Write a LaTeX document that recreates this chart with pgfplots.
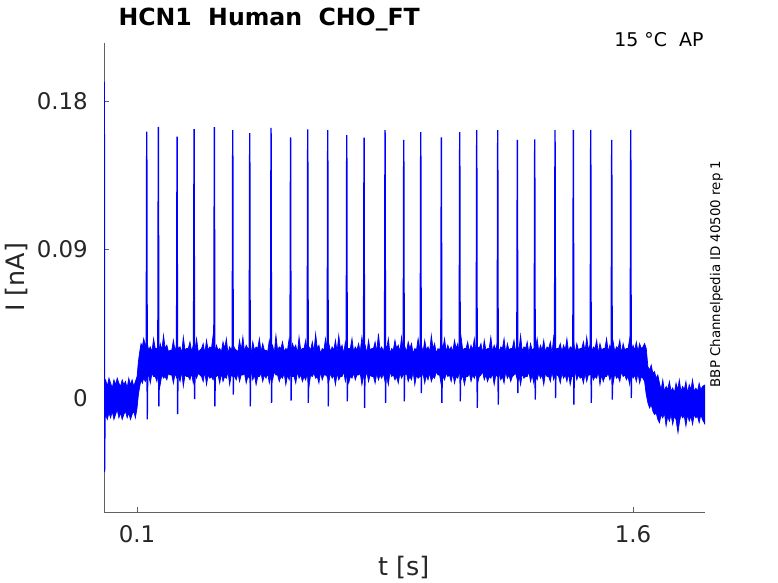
\documentclass[border=0pt]{standalone}
\usepackage{fontspec}
\setmainfont{DejaVu Sans}
\usepackage{pgfplots}
\pgfplotsset{compat=1.18}
\usepackage{pgfplotstable}
\usepgfplotslibrary{fillbetween}

% upper edge of the noise band
\pgfplotstableread{
t y
0.000 0.008
0.005 0.011
0.010 0.007
0.015 0.012
0.020 0.009
0.025 0.006
0.030 0.011
0.035 0.008
0.040 0.012
0.045 0.009
0.050 0.007
0.055 0.011
0.060 0.008
0.065 0.010
0.070 0.006
0.075 0.012
0.080 0.008
0.085 0.011
0.090 0.007
0.095 0.010
0.100 0.013
0.104 0.022
0.108 0.028
0.112 0.033
0.116 0.031
0.120 0.036
0.125 0.032
0.130 0.034
0.135 0.029
0.140 0.031
0.145 0.028
0.150 0.036
0.155 0.030
0.160 0.030
0.165 0.027
0.170 0.033
0.175 0.029
0.180 0.038
0.185 0.030
0.190 0.032
0.195 0.028
0.200 0.029
0.205 0.029
0.210 0.035
0.215 0.028
0.220 0.033
0.225 0.030
0.230 0.031
0.235 0.027
0.240 0.037
0.245 0.029
0.250 0.030
0.255 0.030
0.260 0.034
0.265 0.028
0.270 0.032
0.275 0.029
0.280 0.036
0.285 0.028
0.290 0.029
0.295 0.030
0.300 0.033
0.305 0.027
0.310 0.035
0.315 0.029
0.320 0.031
0.325 0.030
0.330 0.038
0.335 0.028
0.340 0.032
0.345 0.029
0.350 0.030
0.355 0.028
0.360 0.034
0.365 0.030
0.370 0.036
0.375 0.027
0.380 0.031
0.385 0.029
0.390 0.033
0.395 0.030
0.400 0.029
0.405 0.028
0.410 0.035
0.415 0.029
0.420 0.037
0.425 0.028
0.430 0.032
0.435 0.030
0.440 0.030
0.445 0.027
0.450 0.034
0.455 0.029
0.460 0.031
0.465 0.030
0.470 0.036
0.475 0.028
0.480 0.033
0.485 0.029
0.490 0.029
0.495 0.028
0.500 0.035
0.505 0.030
0.510 0.032
0.515 0.027
0.520 0.038
0.525 0.029
0.530 0.031
0.535 0.030
0.540 0.034
0.545 0.028
0.550 0.030
0.555 0.029
0.560 0.036
0.565 0.028
0.570 0.033
0.575 0.030
0.580 0.032
0.585 0.027
0.590 0.037
0.595 0.029
0.600 0.030
0.605 0.030
0.610 0.035
0.615 0.028
0.620 0.031
0.625 0.029
0.630 0.034
0.635 0.028
0.640 0.039
0.645 0.030
0.650 0.032
0.655 0.027
0.660 0.030
0.665 0.029
0.670 0.036
0.675 0.030
0.680 0.033
0.685 0.028
0.690 0.031
0.695 0.029
0.700 0.035
0.705 0.028
0.710 0.038
0.715 0.030
0.720 0.032
0.725 0.027
0.730 0.034
0.735 0.029
0.740 0.030
0.745 0.030
0.750 0.036
0.755 0.028
0.760 0.031
0.765 0.029
0.770 0.033
0.775 0.028
0.780 0.037
0.785 0.030
0.790 0.032
0.795 0.027
0.800 0.035
0.805 0.029
0.810 0.030
0.815 0.030
0.820 0.034
0.825 0.028
0.830 0.039
0.835 0.029
0.840 0.031
0.845 0.028
0.850 0.033
0.855 0.030
0.860 0.036
0.865 0.027
0.870 0.030
0.875 0.029
0.880 0.035
0.885 0.030
0.890 0.032
0.895 0.028
0.900 0.037
0.905 0.029
0.910 0.031
0.915 0.028
0.920 0.034
0.925 0.030
0.930 0.033
0.935 0.027
0.940 0.030
0.945 0.029
0.950 0.036
0.955 0.030
0.960 0.032
0.965 0.028
0.970 0.035
0.975 0.029
0.980 0.031
0.985 0.028
0.990 0.038
0.995 0.030
1.000 0.033
1.005 0.027
1.010 0.030
1.015 0.029
1.020 0.034
1.025 0.030
1.030 0.036
1.035 0.028
1.040 0.032
1.045 0.029
1.050 0.031
1.055 0.028
1.060 0.035
1.065 0.030
1.070 0.033
1.075 0.027
1.080 0.037
1.085 0.029
1.090 0.030
1.095 0.030
1.100 0.034
1.105 0.028
1.110 0.032
1.115 0.029
1.120 0.036
1.125 0.028
1.130 0.031
1.135 0.030
1.140 0.033
1.145 0.027
1.150 0.035
1.155 0.029
1.160 0.030
1.165 0.030
1.170 0.037
1.175 0.028
1.180 0.032
1.185 0.029
1.190 0.034
1.195 0.028
1.200 0.031
1.205 0.030
1.210 0.036
1.215 0.027
1.220 0.033
1.225 0.029
1.230 0.030
1.235 0.030
1.240 0.035
1.245 0.028
1.250 0.032
1.255 0.029
1.260 0.038
1.265 0.028
1.270 0.031
1.275 0.030
1.280 0.034
1.285 0.027
1.290 0.033
1.295 0.029
1.300 0.030
1.305 0.030
1.310 0.036
1.315 0.028
1.320 0.032
1.325 0.029
1.330 0.035
1.335 0.028
1.340 0.031
1.345 0.030
1.350 0.034
1.355 0.027
1.360 0.037
1.365 0.029
1.370 0.030
1.375 0.030
1.380 0.033
1.385 0.028
1.390 0.032
1.395 0.029
1.400 0.036
1.405 0.028
1.410 0.031
1.415 0.030
1.420 0.035
1.425 0.027
1.430 0.033
1.435 0.029
1.440 0.030
1.445 0.030
1.450 0.034
1.455 0.028
1.460 0.037
1.465 0.029
1.470 0.032
1.475 0.028
1.480 0.031
1.485 0.030
1.490 0.035
1.495 0.027
1.500 0.033
1.505 0.029
1.510 0.030
1.515 0.030
1.520 0.036
1.525 0.028
1.530 0.032
1.535 0.029
1.540 0.034
1.545 0.028
1.550 0.031
1.555 0.030
1.560 0.035
1.565 0.027
1.570 0.033
1.575 0.029
1.580 0.030
1.585 0.030
1.590 0.036
1.595 0.028
1.600 0.032
1.605 0.029
1.610 0.034
1.615 0.028
1.620 0.033
1.625 0.030
1.630 0.031
1.635 0.033
1.640 0.030
1.645 0.019
1.650 0.017
1.655 0.020
1.660 0.015
1.665 0.016
1.670 0.012
1.675 0.014
1.680 0.009
1.685 0.005
1.690 0.011
1.695 0.004
1.700 0.007
1.705 0.005
1.710 0.010
1.715 0.004
1.720 0.006
1.725 0.003
1.730 0.009
1.735 0.005
1.740 0.011
1.745 0.004
1.750 0.007
1.755 0.005
1.760 0.010
1.765 0.003
1.770 0.008
1.775 0.005
1.780 0.011
1.785 0.004
1.790 0.006
1.795 0.004
1.800 0.009
1.805 0.005
1.810 0.007
1.8177 0.008
}\toptrace

% lower edge of the noise band
\pgfplotstableread{
t y
0.000 -0.014
0.005 -0.010
0.010 -0.013
0.015 -0.009
0.020 -0.012
0.025 -0.008
0.030 -0.013
0.035 -0.010
0.040 -0.007
0.045 -0.012
0.050 -0.009
0.055 -0.013
0.060 -0.010
0.065 -0.008
0.070 -0.012
0.075 -0.009
0.080 -0.013
0.085 -0.010
0.090 -0.008
0.095 -0.012
0.100 -0.006
0.104 0.002
0.108 0.007
0.112 0.011
0.116 0.009
0.120 0.012
0.125 0.010
0.130 0.012
0.135 0.014
0.140 0.009
0.145 0.015
0.150 0.013
0.155 0.013
0.160 0.010
0.165 0.016
0.170 0.008
0.175 0.014
0.180 0.012
0.185 0.013
0.190 0.011
0.195 0.015
0.200 0.014
0.205 0.014
0.210 0.009
0.215 0.015
0.220 0.012
0.225 0.013
0.230 0.010
0.235 0.016
0.240 0.007
0.245 0.014
0.250 0.013
0.255 0.013
0.260 0.011
0.265 0.015
0.270 0.009
0.275 0.014
0.280 0.012
0.285 0.015
0.290 0.014
0.295 0.013
0.300 0.010
0.305 0.016
0.310 0.008
0.315 0.014
0.320 0.012
0.325 0.013
0.330 0.011
0.335 0.015
0.340 0.013
0.345 0.014
0.350 0.009
0.355 0.015
0.360 0.010
0.365 0.013
0.370 0.012
0.375 0.016
0.380 0.008
0.385 0.014
0.390 0.013
0.395 0.013
0.400 0.011
0.405 0.015
0.410 0.010
0.415 0.014
0.420 0.014
0.425 0.015
0.430 0.009
0.435 0.013
0.440 0.012
0.445 0.016
0.450 0.011
0.455 0.014
0.460 0.008
0.465 0.013
0.470 0.013
0.475 0.015
0.480 0.010
0.485 0.014
0.490 0.012
0.495 0.015
0.500 0.009
0.505 0.013
0.510 0.011
0.515 0.016
0.520 0.014
0.525 0.014
0.530 0.010
0.535 0.013
0.540 0.012
0.545 0.015
0.550 0.008
0.555 0.014
0.560 0.011
0.565 0.015
0.570 0.013
0.575 0.013
0.580 0.009
0.585 0.016
0.590 0.012
0.595 0.014
0.600 0.010
0.605 0.013
0.610 0.011
0.615 0.015
0.620 0.007
0.625 0.014
0.630 0.013
0.635 0.015
0.640 0.012
0.645 0.013
0.650 0.009
0.655 0.016
0.660 0.011
0.665 0.014
0.670 0.014
0.675 0.013
0.680 0.010
0.685 0.015
0.690 0.012
0.695 0.014
0.700 0.008
0.705 0.015
0.710 0.011
0.715 0.013
0.720 0.013
0.725 0.016
0.730 0.010
0.735 0.014
0.740 0.009
0.745 0.013
0.750 0.012
0.755 0.015
0.760 0.011
0.765 0.014
0.770 0.014
0.775 0.015
0.780 0.008
0.785 0.013
0.790 0.012
0.795 0.016
0.800 0.010
0.805 0.014
0.810 0.013
0.815 0.013
0.820 0.009
0.825 0.015
0.830 0.011
0.835 0.014
0.840 0.012
0.845 0.015
0.850 0.010
0.855 0.013
0.860 0.008
0.865 0.016
0.870 0.013
0.875 0.014
0.880 0.011
0.885 0.013
0.890 0.009
0.895 0.015
0.900 0.012
0.905 0.014
0.910 0.014
0.915 0.015
0.920 0.010
0.925 0.013
0.930 0.011
0.935 0.016
0.940 0.008
0.945 0.014
0.950 0.012
0.955 0.013
0.960 0.013
0.965 0.015
0.970 0.009
0.975 0.014
0.980 0.011
0.985 0.015
0.990 0.010
0.995 0.013
1.000 0.012
1.005 0.016
1.010 0.014
1.015 0.014
1.020 0.008
1.025 0.013
1.030 0.011
1.035 0.015
1.040 0.013
1.045 0.014
1.050 0.010
1.055 0.015
1.060 0.009
1.065 0.013
1.070 0.012
1.075 0.016
1.080 0.011
1.085 0.014
1.090 0.008
1.095 0.013
1.100 0.013
1.105 0.015
1.110 0.010
1.115 0.014
1.120 0.012
1.125 0.015
1.130 0.009
1.135 0.013
1.140 0.014
1.145 0.016
1.150 0.011
1.155 0.014
1.160 0.010
1.165 0.013
1.170 0.012
1.175 0.015
1.180 0.008
1.185 0.014
1.190 0.013
1.195 0.015
1.200 0.011
1.205 0.013
1.210 0.009
1.215 0.016
1.220 0.012
1.225 0.014
1.230 0.010
1.235 0.013
1.240 0.014
1.245 0.015
1.250 0.011
1.255 0.014
1.260 0.008
1.265 0.015
1.270 0.012
1.275 0.013
1.280 0.013
1.285 0.016
1.290 0.010
1.295 0.014
1.300 0.009
1.305 0.013
1.310 0.011
1.315 0.015
1.320 0.012
1.325 0.014
1.330 0.008
1.335 0.015
1.340 0.013
1.345 0.013
1.350 0.010
1.355 0.016
1.360 0.011
1.365 0.014
1.370 0.014
1.375 0.013
1.380 0.009
1.385 0.015
1.390 0.012
1.395 0.014
1.400 0.010
1.405 0.015
1.410 0.008
1.415 0.013
1.420 0.013
1.425 0.016
1.430 0.011
1.435 0.014
1.440 0.012
1.445 0.013
1.450 0.009
1.455 0.015
1.460 0.010
1.465 0.014
1.470 0.014
1.475 0.015
1.480 0.011
1.485 0.013
1.490 0.012
1.495 0.016
1.500 0.008
1.505 0.014
1.510 0.010
1.515 0.013
1.520 0.013
1.525 0.015
1.530 0.011
1.535 0.014
1.540 0.009
1.545 0.015
1.550 0.012
1.555 0.013
1.560 0.010
1.565 0.016
1.570 0.013
1.575 0.014
1.580 0.011
1.585 0.013
1.590 0.008
1.595 0.015
1.600 0.012
1.605 0.014
1.610 0.010
1.615 0.015
1.620 0.009
1.625 0.013
1.630 0.012
1.635 0.010
1.640 0.002
1.645 -0.003
1.650 -0.006
1.655 -0.004
1.660 -0.008
1.665 -0.010
1.670 -0.009
1.675 -0.013
1.680 -0.015
1.685 -0.010
1.690 -0.012
1.695 -0.009
1.700 -0.017
1.705 -0.011
1.710 -0.014
1.715 -0.010
1.720 -0.016
1.725 -0.011
1.730 -0.013
1.736 -0.021
1.740 -0.015
1.745 -0.010
1.750 -0.012
1.755 -0.011
1.760 -0.017
1.765 -0.010
1.770 -0.014
1.775 -0.011
1.780 -0.016
1.785 -0.010
1.790 -0.012
1.795 -0.011
1.800 -0.015
1.805 -0.010
1.810 -0.013
1.8177 -0.016
}\bottrace

% onset transient and the spikes (peak, then dip)
\pgfplotstableread{
t y
0.0000 -0.005
0.0008 0.1917
0.0016 -0.045
0.0030 -0.010
0.0030 nan
0.1278 0.022
0.1293 0.1614
0.1308 -0.013
0.1323 0.020
0.1323 nan
0.1629 0.022
0.1644 0.1644
0.1659 -0.005
0.1674 0.020
0.1674 nan
0.2195 0.022
0.2210 0.1584
0.2225 -0.0097
0.2240 0.020
0.2240 nan
0.2709 0.022
0.2724 0.1630
0.2739 -0.0006
0.2754 0.020
0.2754 nan
0.3323 0.022
0.3338 0.1642
0.3353 -0.005
0.3368 0.020
0.3368 nan
0.3879 0.022
0.3894 0.1624
0.3909 0.002
0.3924 0.020
0.3924 nan
0.4393 0.022
0.4408 0.1606
0.4423 -0.005
0.4438 0.020
0.4438 nan
0.5037 0.022
0.5052 0.1638
0.5067 -0.003
0.5082 0.020
0.5082 nan
0.5627 0.022
0.5642 0.1580
0.5657 -0.0016
0.5672 0.020
0.5672 nan
0.6147 0.022
0.6162 0.1628
0.6177 -0.003
0.6192 0.020
0.6192 nan
0.6752 0.022
0.6767 0.1624
0.6782 -0.005
0.6797 0.020
0.6797 nan
0.7327 0.022
0.7342 0.1594
0.7357 -0.002
0.7372 0.020
0.7372 nan
0.7850 0.022
0.7865 0.1578
0.7880 -0.006
0.7895 0.020
0.7895 nan
0.8485 0.022
0.8500 0.1624
0.8515 -0.003
0.8530 0.020
0.8530 nan
0.9051 0.022
0.9066 0.1564
0.9081 -0.002
0.9096 0.020
0.9096 nan
0.9565 0.022
0.9580 0.1612
0.9595 0.003
0.9610 0.020
0.9610 nan
1.0188 0.022
1.0203 0.1580
1.0218 -0.003
1.0233 0.020
1.0233 nan
1.0744 0.022
1.0759 0.1612
1.0774 -0.002
1.0789 0.020
1.0789 nan
1.1258 0.022
1.1273 0.1624
1.1288 -0.006
1.1303 0.020
1.1303 nan
1.1893 0.022
1.1908 0.1624
1.1923 -0.004
1.1938 0.020
1.1938 nan
1.2486 0.022
1.2501 0.1565
1.2516 0.003
1.2531 0.020
1.2531 nan
1.3012 0.022
1.3027 0.1568
1.3042 -0.001
1.3057 0.020
1.3057 nan
1.3626 0.022
1.3641 0.1624
1.3656 0.000
1.3671 0.020
1.3671 nan
1.4180 0.022
1.4195 0.1624
1.4210 -0.004
1.4225 0.020
1.4225 nan
1.4706 0.022
1.4721 0.1624
1.4736 -0.003
1.4751 0.020
1.4751 nan
1.5341 0.022
1.5356 0.1564
1.5371 -0.001
1.5386 0.020
1.5386 nan
1.5916 0.022
1.5931 0.1624
1.5946 0.000
1.5961 0.020
}\spikes

\begin{document}
\begin{tikzpicture}
\begin{axis}[
  scale only axis,
  width=601bp, height=469bp,
  xmin=0, xmax=1.8177,
  ymin=-0.0691, ymax=0.2152,
  axis x line=bottom, axis y line=left,
  axis line style={-, draw=black!62, line width=0.8bp},
  xtick={0.1,1.6}, xticklabels={0.1,1.6},
  ytick={0,0.09,0.18}, yticklabels={0,0.09,0.18},
  tick align=inside, major tick length=5bp,
  tick style={draw=black!62, line width=0.6bp},
  ticklabel style={font=\fontsize{23}{27}\selectfont, text=black!85, inner sep=0pt},
  xticklabel style={anchor=center, yshift=-21.7bp},
  yticklabel style={anchor=east, xshift=-16bp},
  unbounded coords=jump,
  clip mode=individual,
]
\addplot[name path=top, draw=blue, line width=0.7bp] table {\toptrace};
\addplot[name path=bot, draw=blue, line width=0.7bp] table {\bottrace};
\addplot[fill=blue, draw=none] fill between[of=top and bot];
\addplot[draw=blue, line width=1.4bp] table {\spikes};

\node[anchor=base west, xshift=11bp, yshift=17bp, font=\fontsize{23.7}{28}\selectfont\bfseries]
  at (rel axis cs:0,1) {HCN1\ \ Human\ \ CHO\_FT};
\node[anchor=base east, xshift=2bp, yshift=-4bp, font=\fontsize{19}{23}\selectfont]
  at (rel axis cs:1,1) {15 °C\ \ AP};
\node[xshift=11.5bp, rotate=90, font=\fontsize{13.4}{16}\selectfont]
  at (rel axis cs:1,0.5075) {BBP Channelpedia ID 40500 rep 1};
\node[xshift=-87.5bp, rotate=90, font=\fontsize{25.5}{30}\selectfont, text=black!85]
  at (rel axis cs:0,0.5) {I [nA]};
\node[yshift=-56bp, font=\fontsize{25.5}{30}\selectfont, text=black!85]
  at (rel axis cs:0.4988,0) {t [s]};
\end{axis}
\pgfresetboundingbox
\path[use as bounding box] (-104bp,-71bp) rectangle (674bp,512bp);
\end{tikzpicture}
\end{document}
